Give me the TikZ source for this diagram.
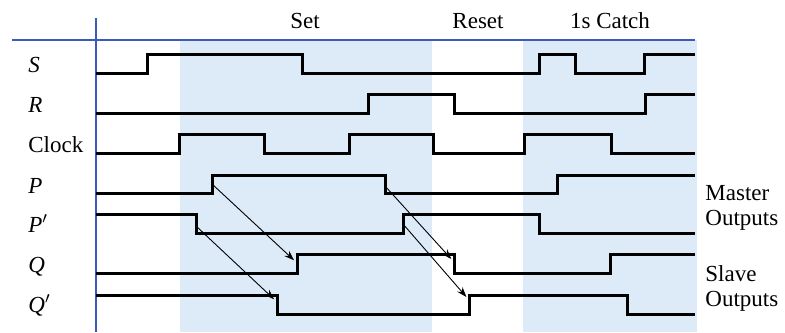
\documentclass[tikz,border=0pt]{standalone}
\usepackage{fontspec}
\usepackage{xcolor}
\usepackage{tikz}
\usetikzlibrary{arrows.meta}
\setmainfont{Liberation Serif}

\definecolor{windowblue}{RGB}{221,234,248}
\definecolor{axisblue}{RGB}{60,90,185}

\begin{document}
\begin{tikzpicture}[
			x=0.5pt, y=-0.5pt,
			% Define the style for the waveforms and labels
			wave/.style={line width=1.5pt, line join=miter},
			delay/.style={-{Stealth[length=5pt, width=3.5pt]}, line width=0.45pt, shorten <=1pt, shorten >=2pt},
			every node/.style={font=\fontsize{11.5}{12.5}\selectfont, inner sep=0pt}
			]
			\useasboundingbox (0,0) rectangle (785,332);
			
			% shaded clock windows
			\fill[windowblue] (180,40) rectangle (432,332);
			\fill[windowblue] (523,40) rectangle (697,332);
			
			% axes
			\draw[axisblue, line width=0.6pt] (96,18) -- (96,332);
			\draw[axisblue, line width=0.6pt] (12,40) -- (695,40);
			
			\node (set) at (305,28) [anchor=base] {Set};
			\node (reset) at (478,28) [anchor=base] {Reset};
			\node (catch) at (610,28) [anchor=base] {1s Catch};
			
			\node (lS) at (28,72) [anchor=base west] {\textit{S}};
			\node (lR) at (28,112) [anchor=base west] {\textit{R}};
			\node (lC) at (28,152) [anchor=base west] {Clock};
			\node (lP) at (28,193) [anchor=base west] {\textit{P}};
			\node (lPn) at (28,232) [anchor=base west] {\textit{P}$'$};
			\node (lQ) at (28,272) [anchor=base west] {\textit{Q}};
			\node (lQn) at (28,312) [anchor=base west] {\textit{Q}$'$};
			
			\node (master) at (705,208) [anchor=west, align=left] {Master\\Outputs};
			\node (slave) at (705,288) [anchor=west, align=left] {Slave\\Outputs};
			
			% S
			\draw[wave] (96,73) -- (147,73) -- (147,54) -- (302,54) -- (302,73) -- (539,73)
				-- (539,54) -- (575,54) -- (575,73) -- (644,73) -- (644,54) -- (695,54);
			% R
			\draw[wave] (96,113) -- (368,113) -- (368,94) -- (454,94) -- (454,113) -- (645,113)
				-- (645,94) -- (695,94);
			% Clock
			\draw[wave] (96,153) -- (179,153) -- (179,134) -- (264,134) -- (264,153) -- (349,153)
				-- (349,134) -- (433,134) -- (433,153) -- (524,153) -- (524,134) -- (611,134)
				-- (611,153) -- (695,153);
			% P
			\draw[wave] (96,193) -- (212,193) -- (212,175) -- (385,175) -- (385,193) -- (557,193)
				-- (557,175) -- (695,175);
			% P'
			\draw[wave] (96,214) -- (196,214) -- (196,233) -- (403,233) -- (403,214) -- (539,214)
				-- (539,233) -- (695,233);
			% Q
			\draw[wave] (96,273) -- (297,273) -- (297,254) -- (454,254) -- (454,273) -- (610,273)
				-- (610,254) -- (695,254);
			% Q'
			\draw[wave] (96,295) -- (277,295) -- (277,314) -- (469,314) -- (469,295) -- (627,295)
				-- (627,314) -- (695,314);
			
			\coordinate (p1) at (212,184);
			\coordinate (pn1) at (196,226);
			\coordinate (q1) at (297,263);
			\coordinate (qn1) at (277,302);
			\coordinate (p2) at (385,186);
			\coordinate (pn2) at (403,224);
			\coordinate (q2) at (454,262);
			\coordinate (qn2) at (469,300);
			
			\draw[delay] (p1) -- (q1);
			\draw[delay] (pn1) -- (qn1);
			\draw[delay] (p2) -- (q2);
			\draw[delay] (pn2) -- (qn2);
			
		\end{tikzpicture}
\end{document}
